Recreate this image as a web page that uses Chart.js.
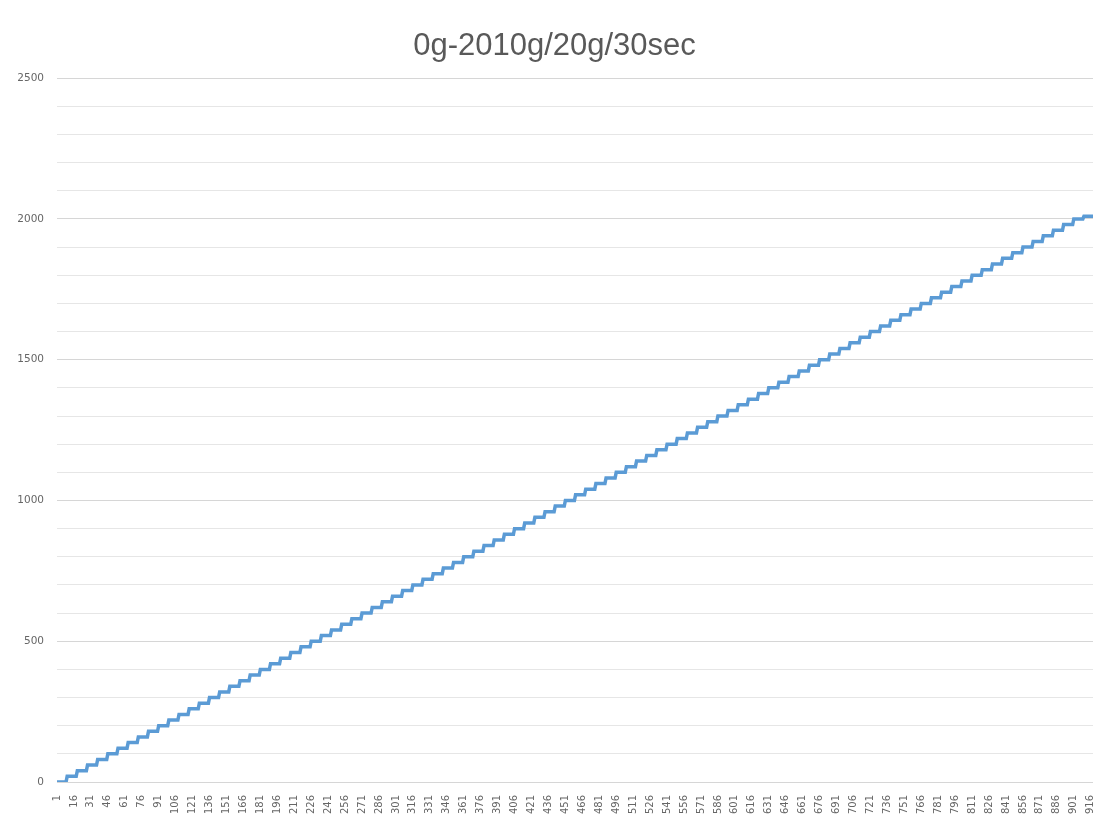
<!DOCTYPE html>
<html>
<head>
<meta charset="utf-8">
<script src="https://cdn.jsdelivr.net/npm/chart.js@4.4.1/dist/chart.umd.min.js"></script>
<style>
  html, body { margin: 0; padding: 0; background: #ffffff; }
  #wrap { width: 1101px; height: 821px; }
</style>
</head>
<body>
<div id="wrap"><canvas id="c" width="1101" height="821"></canvas></div>
<script>
// Load ramp: 20 g added every 30 s, from 0 g up to 2010 g
const chartTitle = '0g-2010g/20g/30sec';

// Weight level (g) held during each 30 s step
const stepLevels = [
  0, 20, 40, 60, 80, 100, 120, 140, 160, 180,
  200, 220, 240, 260, 280, 300, 320, 340, 360, 380,
  400, 420, 440, 460, 480, 500, 520, 540, 560, 580,
  600, 620, 640, 660, 680, 700, 720, 740, 760, 780,
  800, 820, 840, 860, 880, 900, 920, 940, 960, 980,
  1000, 1020, 1040, 1060, 1080, 1100, 1120, 1140, 1160, 1180,
  1200, 1220, 1240, 1260, 1280, 1300, 1320, 1340, 1360, 1380,
  1400, 1420, 1440, 1460, 1480, 1500, 1520, 1540, 1560, 1580,
  1600, 1620, 1640, 1660, 1680, 1700, 1720, 1740, 1760, 1780,
  1800, 1820, 1840, 1860, 1880, 1900, 1920, 1940, 1960, 1980,
  2000, 2010
];

// Number of readings logged at each level
const stepSamples = [
  9, 9, 9, 9, 9, 9, 9, 9, 9, 9,
  9, 9, 9, 9, 9, 9, 9, 9, 9, 9,
  9, 9, 9, 9, 9, 9, 9, 9, 9, 9,
  9, 9, 9, 9, 9, 9, 9, 9, 9, 9,
  9, 9, 9, 9, 9, 9, 9, 9, 9, 9,
  9, 9, 9, 9, 9, 9, 9, 9, 9, 9,
  9, 9, 9, 9, 9, 9, 9, 9, 9, 9,
  9, 9, 9, 9, 9, 9, 9, 9, 9, 9,
  9, 9, 9, 9, 9, 9, 9, 9, 9, 9,
  9, 9, 9, 9, 9, 9, 9, 9, 9, 9,
  9, 9
];

// Reading numbers shown under the horizontal axis
const xTickLabels = [
  1, 16, 31, 46, 61, 76, 91, 106, 121, 136, 151, 166, 181, 196, 211, 226,
  241, 256, 271, 286, 301, 316, 331, 346, 361, 376, 391, 406, 421, 436, 451,
  466, 481, 496, 511, 526, 541, 556, 571, 586, 601, 616, 631, 646, 661, 676,
  691, 706, 721, 736, 751, 766, 781, 796, 811, 826, 841, 856, 871, 886, 901, 916
];

// Weight labels on the vertical axis (grid every 100 g)
const yTickLabels = [0, 500, 1000, 1500, 2000, 2500];

// Expand the step table into one point per reading
const readings = [];
let idx = 1;
stepLevels.forEach((g, i) => {
  for (let k = 0; k < stepSamples[i]; k++) readings.push({ x: idx++, y: g });
});

const textColor = '#595959';
const titleFont = 'Liberation Sans, Arial, Helvetica, sans-serif';
const tickFont = 'DejaVu Sans, Verdana, sans-serif';

new Chart(document.getElementById('c'), {
  type: 'line',
  data: {
    datasets: [{
      data: readings,
      borderColor: '#5b9bd5',
      borderWidth: 3.5,
      pointRadius: 0,
      tension: 0,
      fill: false
    }]
  },
  options: {
    responsive: false,
    animation: false,
    devicePixelRatio: 1,
    layout: { padding: { left: 16, right: 8, top: 0, bottom: 6 } },
    plugins: {
      legend: { display: false },
      tooltip: { enabled: false },
      title: {
        display: true,
        text: chartTitle,
        color: textColor,
        font: { family: titleFont, size: 31, weight: 'normal', lineHeight: 1.2 },
        padding: { top: 28, bottom: 13 }
      }
    },
    scales: {
      x: {
        type: 'linear',
        min: 1,
        max: readings.length,
        afterBuildTicks: s => { s.ticks = xTickLabels.map(v => ({ value: v })); },
        afterFit: s => { s.height = 33; s.paddingLeft = 0; s.paddingRight = 0; },
        grid: { display: false },
        border: { display: false },
        ticks: {
          autoSkip: false,
          minRotation: 90,
          maxRotation: 90,
          padding: 5,
          color: '#666666',
          font: { family: tickFont, size: 10 },
          callback: v => String(v)
        }
      },
      y: {
        min: 0,
        max: 2500,
        afterFit: s => { s.width = 41; },
        border: { display: false },
        grid: {
          drawTicks: false,
          color: ctx => (ctx.tick && ctx.tick.value % 500 === 0) ? '#d6d6d6' : '#e6e6e6',
          lineWidth: 1
        },
        ticks: {
          stepSize: 100,
          padding: 13,
          color: '#666666',
          font: { family: tickFont, size: 10.5 },
          callback: v => yTickLabels.includes(v) ? String(v) : ''
        }
      }
    }
  }
});
</script>
</body>
</html>
